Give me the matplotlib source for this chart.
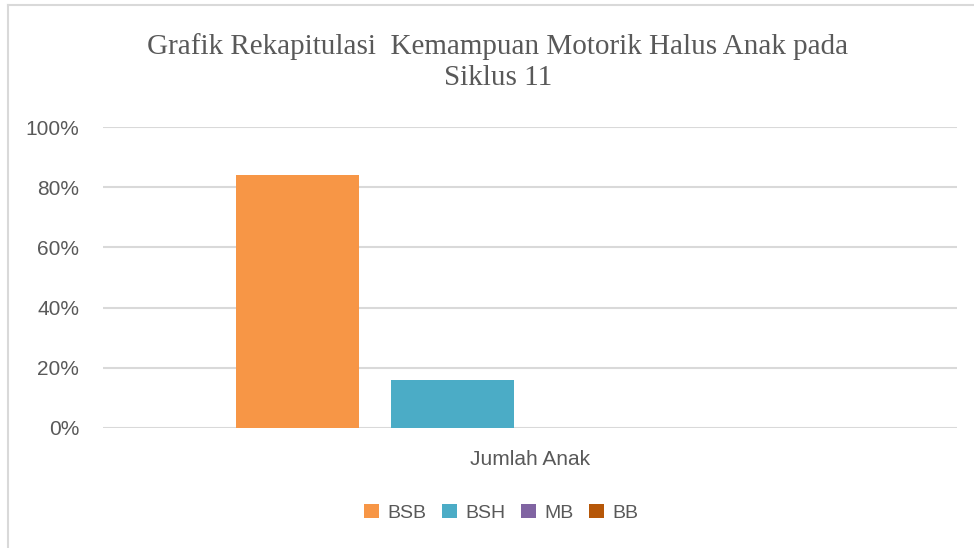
import matplotlib
matplotlib.use("Agg")
import matplotlib.pyplot as plt
from matplotlib.lines import Line2D
from matplotlib.ticker import PercentFormatter
import numpy as np

# ---- data -------------------------------------------------------------------
category = "Jumlah Anak"
series = ["BSB", "BSH", "MB", "BB"]
values = [0.84, 0.16, 0.0, 0.0]
colors = ["#F79646", "#4BACC6", "#8064A2", "#B65708"]
yticks = [0, 0.2, 0.4, 0.6, 0.8, 1.0]

title_lines = ["Grafik Rekapitulasi  Kemampuan Motorik Halus Anak pada", "Siklus 11"]
text_gray = "#595959"
grid_gray = "#D9D9D9"

# ---- figure -----------------------------------------------------------------
fig = plt.figure(figsize=(9.74, 5.48), dpi=100)
ax = fig.add_axes([0.1057, 0.219, 0.8768, 0.5492])

step = 0.1815
width = 0.143
offsets = (np.arange(len(series)) - (len(series) - 1) / 2) * step
for name, val, col, off in zip(series, values, colors, offsets):
    ax.bar(0.5 + off, val, width=width, color=col, label=name, zorder=3)

ax.set_xlim(0, 1)
ax.set_ylim(0, 1)
ax.set_yticks(yticks)
ax.yaxis.set_major_formatter(PercentFormatter(1.0, decimals=0))
ax.set_xticks([0.5])
ax.set_xticklabels([category])
ax.tick_params(axis="both", length=0, colors=text_gray, labelsize=15)
ax.tick_params(axis="y", pad=17)
ax.tick_params(axis="x", pad=16)
for lbl in ax.get_xticklabels() + ax.get_yticklabels():
    lbl.set_fontfamily("Liberation Sans")
ax.grid(axis="y", color=grid_gray, lw=1.5, zorder=0)
for s in ax.spines.values():
    s.set_visible(False)

# two-line title, placed line by line
for line, ypx in zip(title_lines, [47, 78]):
    fig.text(0.511, 1 - ypx / 548, line, ha="center", va="center", fontsize=21,
             family="Liberation Serif", color=text_gray)

leg = fig.legend(loc="center", bbox_to_anchor=(0.515, 0.064), ncol=4,
                 frameon=False, handlelength=0.75, handleheight=0.75,
                 handletextpad=0.45, columnspacing=0.8,
                 prop={"family": "Liberation Sans", "size": 14})
for t in leg.get_texts():
    t.set_color(text_gray)

# chart-area border (only top and left edges are visible in the crop)
fig.add_artist(Line2D([8 / 974, 1], [1 - 5 / 548, 1 - 5 / 548],
                      transform=fig.transFigure, color=grid_gray, lw=1.5))
fig.add_artist(Line2D([8 / 974, 8 / 974], [0, 1 - 5 / 548],
                      transform=fig.transFigure, color=grid_gray, lw=1.5))

fig.savefig("out.png", dpi=100)
